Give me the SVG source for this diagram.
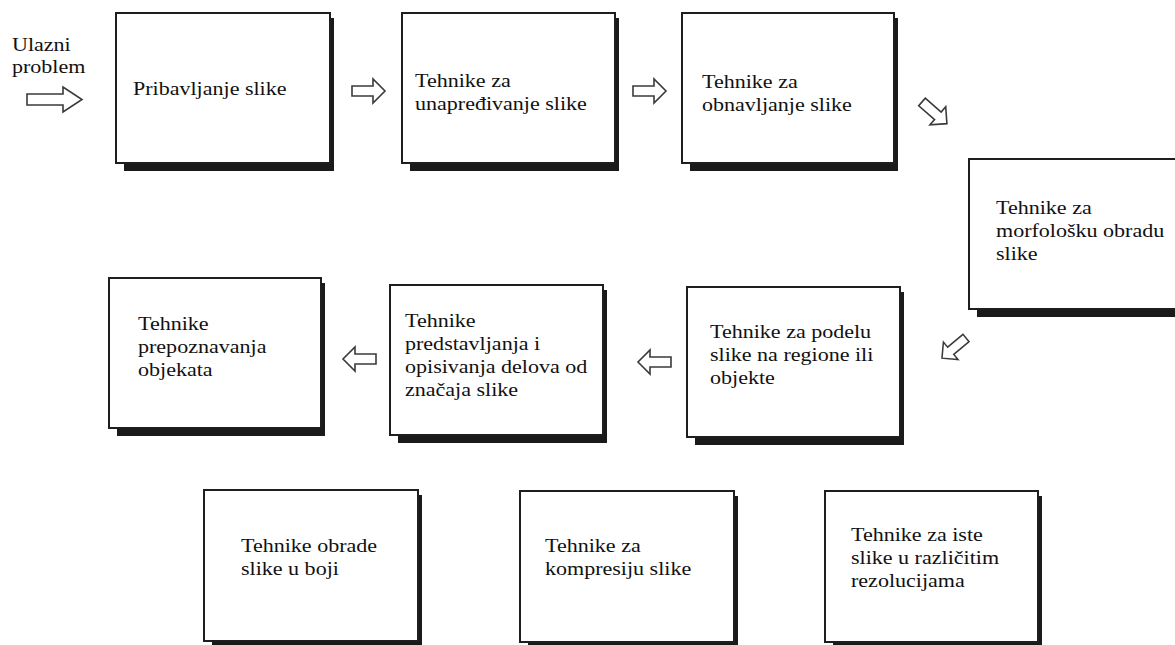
<svg xmlns="http://www.w3.org/2000/svg" width="1175" height="645" viewBox="0 0 1175 645">
  <defs>
    <style>
      .shadow { fill: #1a1a1a; }
      .box { fill: #ffffff; stroke: #1e1e1e; stroke-width: 2; }
      .lbl { font-family: "Liberation Serif", "Times New Roman", serif; font-size: 19px; fill: #111111; }
      .arrow { fill: #ffffff; stroke: #3a3a3a; stroke-width: 1.6; stroke-linejoin: miter; }
    </style>
    <!-- hollow block arrow, tail centre at origin, pointing +x -->
    <path id="blk" d="M0,-5 H21 V-12 L33,0 L21,12 V5 H0 Z"/>
  </defs>

  <rect width="1175" height="645" fill="#ffffff"/>

  <!-- input label -->
  <g id="input">
    <text class="lbl" transform="translate(12,51) scale(1.16,1)"><tspan x="0">Ulazni</tspan><tspan x="0" dy="22">problem</tspan></text>
  </g>

  <!-- flow arrows -->
  <g id="connectors">
    <path class="arrow" transform="translate(27,99.5)" d="M0,-5.5 H36 V-12.5 L55,0 L36,12.5 V5.5 H0 Z"/>
    <use href="#blk" class="arrow" transform="translate(352,91)"/>
    <use href="#blk" class="arrow" transform="translate(633,91)"/>
    <use href="#blk" class="arrow" transform="translate(922,102) rotate(41)"/>
    <use href="#blk" class="arrow" transform="translate(966,338) rotate(140) scale(0.95)"/>
    <use href="#blk" class="arrow" transform="translate(671,362) rotate(180)"/>
    <use href="#blk" class="arrow" transform="translate(376,359) rotate(180)"/>
  </g>

  <g id="n1">
    <rect class="shadow" x="124" y="18" width="210" height="153"/>
    <rect class="box" x="116" y="13" width="214" height="150"/>
    <text class="lbl" transform="translate(133,95) scale(1.16,1)">Pribavljanje slike</text>
  </g>

  <g id="n2">
    <rect class="shadow" x="410" y="18" width="209" height="153"/>
    <rect class="box" x="402" y="13" width="213" height="150"/>
    <text class="lbl" transform="translate(415,87) scale(1.16,1)"><tspan x="0">Tehnike za</tspan><tspan x="0" dy="23">unapređivanje slike</tspan></text>
  </g>

  <g id="n3">
    <rect class="shadow" x="690" y="18" width="208" height="153"/>
    <rect class="box" x="682" y="13" width="212" height="150"/>
    <text class="lbl" transform="translate(702,88) scale(1.16,1)"><tspan x="0">Tehnike za</tspan><tspan x="0" dy="23">obnavljanje slike</tspan></text>
  </g>

  <g id="n4">
    <rect class="shadow" x="977" y="164" width="209" height="153"/>
    <rect class="box" x="969" y="159" width="213" height="150"/>
    <text class="lbl" transform="translate(996,214) scale(1.16,1)"><tspan x="0">Tehnike za</tspan><tspan x="0" dy="23">morfološku obradu</tspan><tspan x="0" dy="23">slike</tspan></text>
  </g>

  <g id="n5">
    <rect class="shadow" x="695" y="292" width="209" height="153"/>
    <rect class="box" x="687" y="287" width="213" height="150"/>
    <text class="lbl" transform="translate(710,338) scale(1.16,1)"><tspan x="0">Tehnike za podelu</tspan><tspan x="0" dy="23">slike na regione ili</tspan><tspan x="0" dy="23">objekte</tspan></text>
  </g>

  <g id="n6">
    <rect class="shadow" x="398" y="290" width="209" height="153"/>
    <rect class="box" x="390" y="285" width="213" height="150"/>
    <text class="lbl" transform="translate(405,327) scale(1.16,1)"><tspan x="0">Tehnike</tspan><tspan x="0" dy="23">predstavljanja i</tspan><tspan x="0" dy="23">opisivanja delova od</tspan><tspan x="0" dy="23">značaja slike</tspan></text>
  </g>

  <g id="n7">
    <rect class="shadow" x="117" y="283" width="208" height="153"/>
    <rect class="box" x="109" y="278" width="212" height="150"/>
    <text class="lbl" transform="translate(138,330) scale(1.16,1)"><tspan x="0">Tehnike</tspan><tspan x="0" dy="23">prepoznavanja</tspan><tspan x="0" dy="23">objekata</tspan></text>
  </g>

  <g id="n8">
    <rect class="shadow" x="212" y="495" width="210" height="154"/>
    <rect class="box" x="204" y="490" width="214" height="151"/>
    <text class="lbl" transform="translate(241,552) scale(1.16,1)"><tspan x="0">Tehnike obrade</tspan><tspan x="0" dy="23">slike u boji</tspan></text>
  </g>

  <g id="n9">
    <rect class="shadow" x="528" y="496" width="210" height="154"/>
    <rect class="box" x="520" y="491" width="214" height="151"/>
    <text class="lbl" transform="translate(545,552) scale(1.16,1)"><tspan x="0">Tehnike za</tspan><tspan x="0" dy="23">kompresiju slike</tspan></text>
  </g>

  <g id="n10">
    <rect class="shadow" x="833" y="496" width="209" height="154"/>
    <rect class="box" x="825" y="491" width="213" height="151"/>
    <text class="lbl" transform="translate(851,541) scale(1.16,1)"><tspan x="0">Tehnike za iste</tspan><tspan x="0" dy="23">slike u različitim</tspan><tspan x="0" dy="23">rezolucijama</tspan></text>
  </g>
</svg>
